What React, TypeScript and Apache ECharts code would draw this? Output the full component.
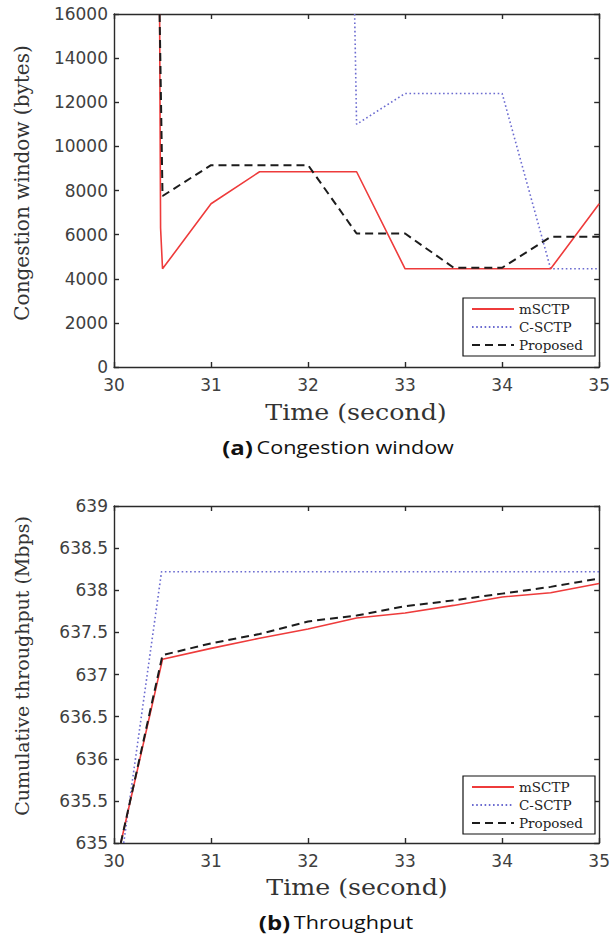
import React, { useEffect, useRef } from "react";
import * as echarts from "echarts";

// ---- Data: (a) Congestion window (bytes) vs time (s) ----
const cwndTime_mSCTP = [30.47, 30.48, 30.5, 31, 31.5, 32.5, 33, 34.5, 35];
const cwnd_mSCTP = [16000, 6300, 4450, 7400, 8850, 8850, 4450, 4450, 7400];
const cwndTime_CSCTP = [32.48, 32.5, 33, 34, 34.5, 35];
const cwnd_CSCTP = [16000, 11000, 12400, 12400, 4450, 4450];
const cwndTime_Proposed = [30.47, 30.5, 31, 32, 32.5, 33, 33.5, 34, 34.5, 35];
const cwnd_Proposed = [16000, 7750, 9150, 9150, 6050, 6050, 4500, 4500, 5900, 5900];

// ---- Data: (b) Cumulative throughput (Mbps) vs time (s) ----
const tputTime = [30.07, 30.5, 31, 31.5, 32, 32.5, 33, 33.5, 34, 34.5, 35];
const tput_mSCTP = [635, 637.18, 637.31, 637.43, 637.54, 637.67, 637.73, 637.82, 637.92, 637.97, 638.08];
const tput_Proposed = [635, 637.23, 637.37, 637.48, 637.63, 637.7, 637.81, 637.88, 637.96, 638.04, 638.14];
const tputTime_CSCTP = [30.1, 30.49, 35];
const tput_CSCTP = [635, 638.22, 638.22];

const seriesNames = ["mSCTP", "C-SCTP", "Proposed"];
const xTicks = { min: 30, max: 35, interval: 1 };
const cwndTicks = { min: 0, max: 16000, interval: 2000 };
const tputTicks = { min: 635, max: 639, interval: 0.5 };

const pair = (xs: number[], ys: number[]) => xs.map((x, i) => [x, ys[i]]);

const RED = "#ee3b3b";
const BLUE = "#6b6bd0";
const BLACK = "#1c1c1c";
const AX = "#2a2a2a";

const lineStyles: any = {
  mSCTP: { color: RED, width: 1.6, type: "solid" },
  "C-SCTP": { color: BLUE, width: 1.6, type: [1.6, 2.6] },
  Proposed: { color: BLACK, width: 2, type: [8, 5] },
};

function mkSeries(name: string, data: number[][], gi: number) {
  const ls = lineStyles[name];
  return {
    name,
    type: "line",
    xAxisIndex: gi * 2,
    yAxisIndex: gi * 2,
    data,
    symbol: "none",
    showSymbol: false,
    clip: true,
    itemStyle: { color: ls.color },
    lineStyle: ls,
    z: name === "Proposed" ? 4 : name === "mSCTP" ? 3 : 2,
  };
}

const axisLineStyle = { color: AX, width: 1.4 };
const labelStyle = {
  fontFamily: "DejaVu Sans",
  fontSize: 17,
  color: "#404040",
  formatter: (v: number) => String(v),
};

function xAxes(gi: number) {
  const base = {
    gridIndex: gi,
    type: "value",
    ...xTicks,
    splitLine: { show: false },
    axisLine: { show: true, onZero: false, lineStyle: axisLineStyle },
    axisTick: { show: true, inside: true, length: 5, lineStyle: axisLineStyle },
  };
  return [
    { ...base, position: "bottom", axisLabel: { ...labelStyle, margin: 9 } },
    { ...base, position: "top", axisLabel: { show: false } },
  ];
}

function yAxes(gi: number, ticks: any) {
  const base = {
    gridIndex: gi,
    type: "value",
    ...ticks,
    splitLine: { show: false },
    axisLine: { show: true, onZero: false, lineStyle: axisLineStyle },
    axisTick: { show: true, inside: true, length: 5, lineStyle: axisLineStyle },
  };
  return [
    { ...base, position: "left", axisLabel: { ...labelStyle, margin: 6 } },
    { ...base, position: "right", axisLabel: { show: false } },
  ];
}

function legendAt(left: number, top: number) {
  return {
    data: seriesNames,
    orient: "vertical",
    left,
    top,
    padding: [4, 12, 4, 8],
    itemGap: 4,
    itemWidth: 42,
    itemHeight: 14,
    itemTextGap: 3,
    borderColor: "#111",
    borderWidth: 1.2,
    borderRadius: 0,
    backgroundColor: "#fff",
    selectedMode: false,
    itemStyle: { opacity: 0, borderWidth: 0 },
    textStyle: { fontFamily: "DejaVu Serif", fontSize: 13.5, color: "#222" },
  };
}

function yTitle(text: string, x: number, y: number, size: number) {
  return {
    type: "text",
    x,
    y,
    rotation: Math.PI / 2,
    style: {
      text,
      fontFamily: "DejaVu Serif",
      fontSize: size,
      fontWeight: "normal",
      fill: "#333",
      textAlign: "center",
      textVerticalAlign: "middle",
      align: "center",
      verticalAlign: "middle",
    },
  };
}

function xTitle(x: number, y: number) {
  return {
    type: "text",
    x,
    y,
    scaleX: 1.15,
    style: {
      text: "Time (second)",
      fontFamily: "DejaVu Serif",
      fontSize: 22,
      fontWeight: "normal",
      fill: "#333",
      textAlign: "center",
      textVerticalAlign: "middle",
      align: "center",
      verticalAlign: "middle",
    },
  };
}

function caption(tag: string, text: string, x: number, y: number) {
  return {
    type: "text",
    x,
    y,
    scaleX: 1.2,
    style: {
      text: "{b|" + tag + "}{r|" + text + "}",
      textAlign: "center",
      textVerticalAlign: "middle",
      align: "center",
      verticalAlign: "middle",
      rich: {
        b: { fontFamily: "Open Sans", fontWeight: "bold", fontSize: 20, fill: "#111", color: "#111" },
        r: { fontFamily: "Open Sans", fontSize: 18, fill: "#111", color: "#111", padding: [0, 0, 0, 3] },
      },
    },
  };
}

export default function App() {
  const ref = useRef<HTMLDivElement>(null);
  useEffect(() => {
    if (!ref.current) return;
    const chart = echarts.init(ref.current, undefined, { renderer: "svg" });
    chart.setOption({
      animation: false,
      backgroundColor: "#fff",
      grid: [
        { left: 114, top: 14, width: 490, height: 353 },
        { left: 114, top: 506, width: 490, height: 337 },
      ],
      xAxis: [...xAxes(0), ...xAxes(1)],
      yAxis: [...yAxes(0, cwndTicks), ...yAxes(1, tputTicks)],
      legend: [legendAt(463, 298), legendAt(463, 776)],
      series: [
        mkSeries("C-SCTP", pair(cwndTime_CSCTP, cwnd_CSCTP), 0),
        mkSeries("mSCTP", pair(cwndTime_mSCTP, cwnd_mSCTP), 0),
        mkSeries("Proposed", pair(cwndTime_Proposed, cwnd_Proposed), 0),
        mkSeries("C-SCTP", pair(tputTime_CSCTP, tput_CSCTP), 1),
        mkSeries("mSCTP", pair(tputTime, tput_mSCTP), 1),
        mkSeries("Proposed", pair(tputTime, tput_Proposed), 1),
      ],
      graphic: [
        yTitle("Congestion window (bytes)", 22, 183, 20),
        yTitle("Cumulative throughput (Mbps)", 22, 666, 19),
        xTitle(356, 413),
        xTitle(357, 888),
        caption("(a)", "Congestion window", 338, 447),
        caption("(b)", "Throughput", 336, 922),
      ],
    });
    return () => chart.dispose();
  }, []);
  return (
    <div
      ref={ref}
      style={{ position: "absolute", left: 0, top: 0, width: 613, height: 936, background: "#fff" }}
    />
  );
}
